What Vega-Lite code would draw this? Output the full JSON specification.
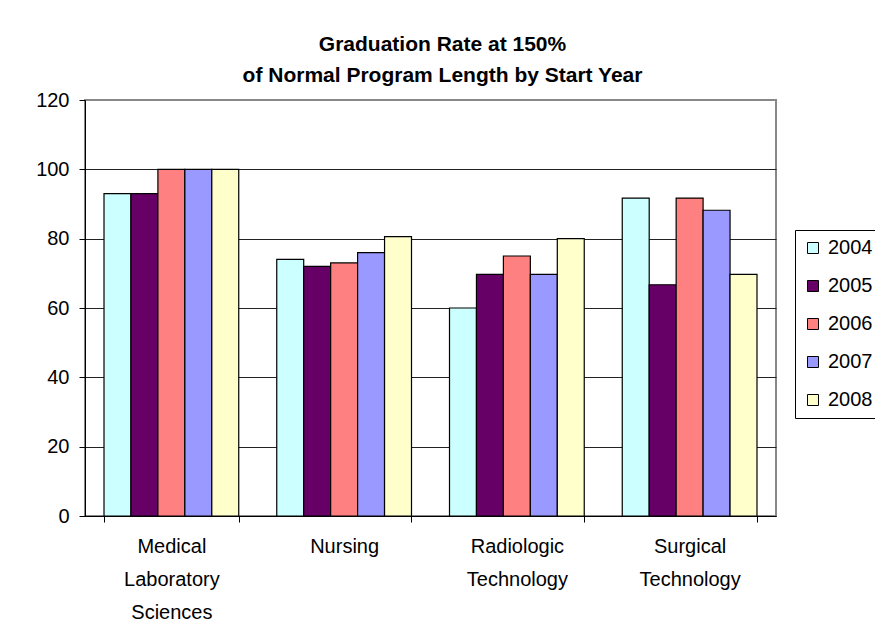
{
  "$schema": "https://vega.github.io/schema/vega-lite/v6.json",
  "autosize": "none",
  "width": 691,
  "height": 416,
  "padding": {"left": 85, "top": 100, "right": 99, "bottom": 127},
  "background": "white",
  "title": {
    "text": ["Graduation Rate at 150%", "of Normal Program Length by Start Year"],
    "font": "Liberation Sans",
    "fontSize": 21,
    "fontWeight": "bold",
    "color": "black",
    "lineHeight": 31,
    "anchor": "middle",
    "dx": 12,
    "offset": 4
  },
  "data": {
    "values": [
      {"program": "Medical Laboratory Sciences", "year": "2004", "rate": 93},
      {"program": "Medical Laboratory Sciences", "year": "2005", "rate": 93},
      {"program": "Medical Laboratory Sciences", "year": "2006", "rate": 100},
      {"program": "Medical Laboratory Sciences", "year": "2007", "rate": 100},
      {"program": "Medical Laboratory Sciences", "year": "2008", "rate": 100},
      {"program": "Nursing", "year": "2004", "rate": 74},
      {"program": "Nursing", "year": "2005", "rate": 72},
      {"program": "Nursing", "year": "2006", "rate": 73},
      {"program": "Nursing", "year": "2007", "rate": 76},
      {"program": "Nursing", "year": "2008", "rate": 80.6},
      {"program": "Radiologic Technology", "year": "2004", "rate": 60},
      {"program": "Radiologic Technology", "year": "2005", "rate": 69.7},
      {"program": "Radiologic Technology", "year": "2006", "rate": 75},
      {"program": "Radiologic Technology", "year": "2007", "rate": 69.7},
      {"program": "Radiologic Technology", "year": "2008", "rate": 80},
      {"program": "Surgical Technology", "year": "2004", "rate": 91.7},
      {"program": "Surgical Technology", "year": "2005", "rate": 66.7},
      {"program": "Surgical Technology", "year": "2006", "rate": 91.7},
      {"program": "Surgical Technology", "year": "2007", "rate": 88.2},
      {"program": "Surgical Technology", "year": "2008", "rate": 69.7}
    ]
  },
  "mark": {"type": "bar", "stroke": "black", "strokeWidth": 1.2, "opacity": 1},
  "encoding": {
    "x": {
      "field": "program",
      "type": "nominal",
      "sort": null,
      "title": null,
      "scale": {"paddingInner": 0.22, "paddingOuter": 0.11},
      "axis": {
        "labelAngle": 0,
        "labelExpr": "split(datum.label, ' ')",
        "labelFontSize": 20,
        "labelLineHeight": 33,
        "labelFont": "Liberation Sans",
        "labelColor": "black",
        "labelPadding": 14,
        "tickBand": "extent",
        "tickSize": 6,
        "tickColor": "black",
        "domainColor": "black",
        "domainWidth": 1,
        "grid": false
      }
    },
    "xOffset": {
      "field": "year",
      "type": "nominal",
      "scale": {"paddingInner": 0, "paddingOuter": 0}
    },
    "y": {
      "field": "rate",
      "type": "quantitative",
      "title": null,
      "scale": {"domain": [0, 120], "nice": false},
      "axis": {
        "values": [0, 20, 40, 60, 80, 100, 120],
        "labelFontSize": 20,
        "labelFont": "Liberation Sans",
        "labelColor": "black",
        "labelPadding": 10,
        "tickSize": 6,
        "tickColor": "black",
        "domainColor": "black",
        "domainWidth": 1,
        "grid": true,
        "gridColor": {"condition": {"test": "datum.value == 120", "value": "#888888"}, "value": "#222222"},
        "gridWidth": 1
      }
    },
    "color": {
      "field": "year",
      "type": "nominal",
      "title": null,
      "scale": {
        "domain": ["2004", "2005", "2006", "2007", "2008"],
        "range": ["#CCFFFF", "#660066", "#FF8080", "#9999FF", "#FFFFCC"]
      },
      "legend": {
        "orient": "none",
        "legendX": 710,
        "legendY": 130,
        "symbolType": "square",
        "symbolSize": 121,
        "symbolStrokeColor": "black",
        "symbolStrokeWidth": 1,
        "symbolOpacity": 1,
        "labelFontSize": 20,
        "labelFont": "Liberation Sans",
        "labelColor": "black",
        "labelOffset": 5,
        "rowPadding": 18,
        "padding": 8,
        "strokeColor": "black",
        "fillColor": "white"
      }
    }
  },
  "config": {
    "view": {"stroke": "#888888", "strokeWidth": 2},
    "font": "Liberation Sans"
  }
}
